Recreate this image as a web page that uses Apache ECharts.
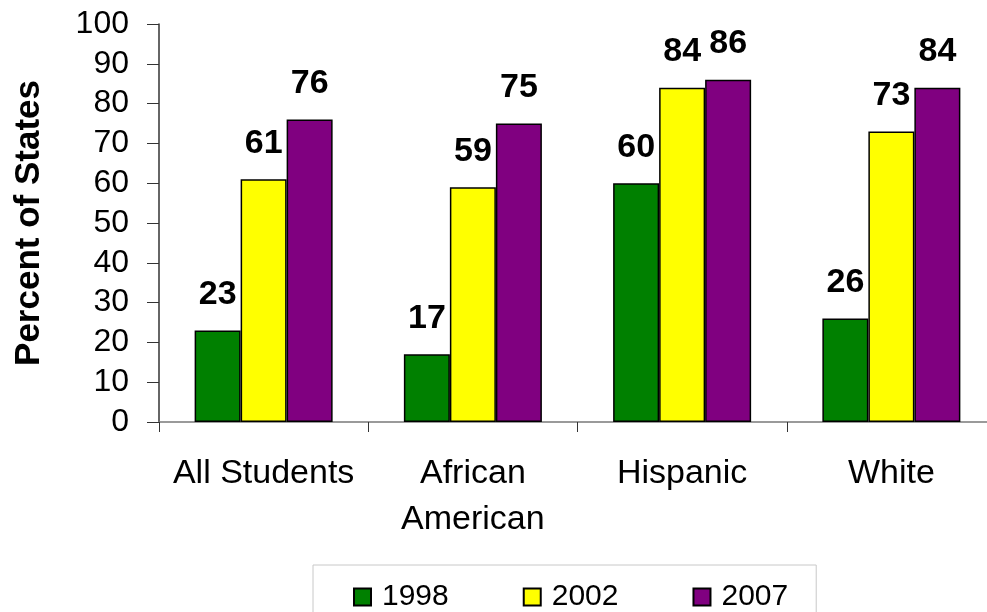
<!DOCTYPE html>
<html>
<head>
<meta charset="utf-8">
<script src="https://cdn.jsdelivr.net/npm/echarts@6/dist/echarts.min.js"></script>
<style>
  html, body { margin: 0; padding: 0; background: #fff; overflow: hidden; }
  /* the drawing surface is a little wider than the window so the plot
     area can run past the right edge */
  #chart { width: 1000px; height: 612px; }
</style>
</head>
<body>
<div id="chart"></div>
<script>
// Share of states by student group, three survey years
const categories = ['All Students', 'African\nAmerican', 'Hispanic', 'White'];
const years = ['1998', '2002', '2007'];
const values1998 = [23, 17, 60, 26];
const values2002 = [61, 59, 84, 73];
const values2007 = [76, 75, 86, 84];
const yTicks = { min: 0, max: 100, interval: 10 };
const yTitle = 'Percent of States';

const colors = ['#008000', '#FFFF00', '#800080'];
const seriesValues = [values1998, values2002, values2007];
const FONT = '"Liberation Sans", Arial, sans-serif';

const chart = echarts.init(document.getElementById('chart'), null, { renderer: 'canvas' });

chart.setOption({
  animation: false,
  backgroundColor: '#ffffff',
  grid: { left: 159, width: 837, top: 24, height: 398, containLabel: false },
  legend: {
    data: years,
    left: 313,
    top: 565,
    orient: 'horizontal',
    itemWidth: 17,
    itemHeight: 17,
    itemGap: 74,
    padding: [17, 28, 30, 40],
    borderColor: '#c8c8c8',
    borderWidth: 1,
    icon: 'rect',
    textStyle: { fontFamily: FONT, fontSize: 30, color: '#000', padding: [0, 0, 0, 6] }
  },
  xAxis: {
    type: 'category',
    data: categories,
    axisLine: { lineStyle: { color: '#7a7a7a', width: 1.5 } },
    axisTick: { show: true, length: 10, lineStyle: { color: '#333', width: 1 } },
    axisLabel: {
      fontFamily: FONT, fontSize: 34, color: '#000', margin: 29, lineHeight: 46, interval: 0
    },
    splitLine: { show: false }
  },
  yAxis: {
    type: 'value',
    min: yTicks.min,
    max: yTicks.max,
    interval: yTicks.interval,
    name: yTitle,
    nameLocation: 'middle',
    nameGap: 112,
    nameRotate: 90,
    nameTextStyle: { fontFamily: FONT, fontSize: 35, fontWeight: 'bold', color: '#000' },
    axisLine: { show: true, lineStyle: { color: '#333', width: 1.5 } },
    axisTick: { show: true, length: 12, lineStyle: { color: '#333', width: 1 } },
    axisLabel: { fontFamily: FONT, fontSize: 32, color: '#000', margin: 30 },
    splitLine: { show: false }
  },
  series: years.map((y, i) => ({
    name: y,
    type: 'bar',
    data: seriesValues[i],
    barWidth: 46,
    barGap: '0%',
    itemStyle: { color: colors[i], borderColor: '#000', borderWidth: 1.5 },
    label: {
      show: true,
      position: 'top',
      distance: 19,
      fontFamily: FONT,
      fontSize: 34,
      fontWeight: 'bold',
      color: '#000'
    }
  }))
});
</script>
</body>
</html>
